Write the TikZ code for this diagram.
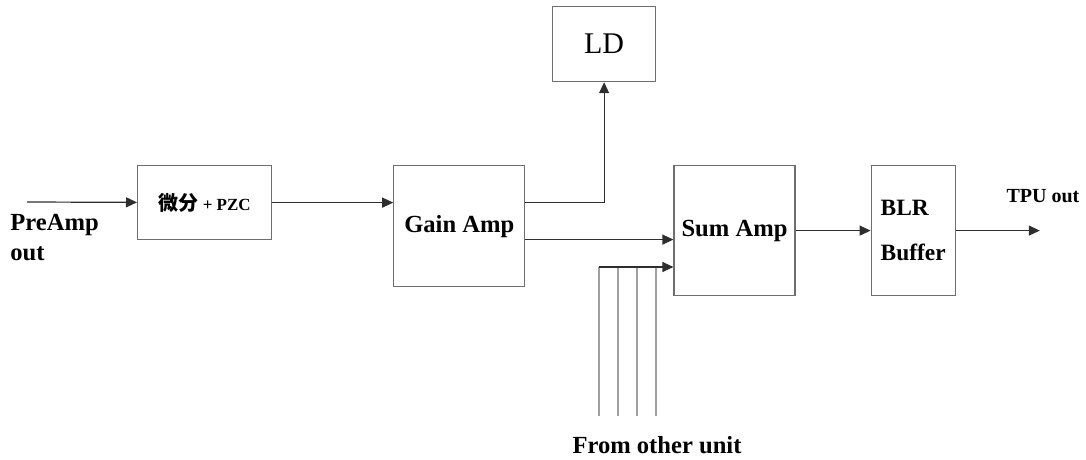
\documentclass[tikz,border=0pt]{standalone}
\usepackage{fontspec}
\setmainfont{Liberation Serif}
\newfontfamily\cjkfont{Noto Sans CJK SC}
\usetikzlibrary{arrows.meta,positioning}
\definecolor{boxline}{HTML}{6E6E6E}
\definecolor{wireink}{HTML}{2E2E2E}
\definecolor{feedline}{HTML}{A0A0A0}

\begin{document}
\begin{tikzpicture}[
  x=0.5pt, y=-0.5pt,
  font=\bfseries\fontsize{12.3}{14}\selectfont,
  blk/.style  = {draw=boxline, line width=0.6pt, inner sep=2pt, align=center},
  flow/.style = {-{Triangle[length=5.5pt,width=5pt]}, line width=0.6pt, draw=wireink},
  feed/.style = {line width=0.6pt, draw=feedline},
  lbl/.style  = {inner sep=0pt, align=left},
]
\useasboundingbox (0,0) rectangle (1086,460);

% ---------- blocks ----------------------------------------------------------
\node[blk, minimum width=67pt, minimum height=37pt, anchor=north west] (diff) at (137,165)
     {{\cjkfont\fontsize{10}{12}\selectfont 微分}{\fontsize{8.5}{10}\selectfont\ + PZC}};
\node[blk, minimum width=65.5pt, minimum height=60.5pt, right=60.5pt of diff.north east, anchor=north west] (gain) {Gain Amp};
\node[blk, minimum width=51.5pt, minimum height=37.5pt, anchor=north west,
      font=\mdseries\fontsize{15}{18}\selectfont] (ld) at (552,6) {LD};
\node[blk, minimum width=60.5pt, minimum height=65pt, right=74pt of gain.north east, anchor=north west] (sum) {Sum Amp};
\node[blk, minimum width=42pt, minimum height=65pt, right=37.5pt of sum.north east, anchor=north west,
      align=left, font=\bfseries\fontsize{11.7}{14}\selectfont] (blr) {BLR\\[8.5pt]Buffer};

% ---------- free ends -------------------------------------------------------
\coordinate (pre) at (27,202);
\coordinate[right=42pt of blr] (tpu);
\coordinate (bus) at (599,267);

% ---------- connectors ------------------------------------------------------
\draw[flow] (pre) -- (diff);
\draw[flow] (diff) -- (diff -| gain.west);
\draw[flow] (diff -| gain.east) -| (ld);
\draw[flow] ([yshift=-6.75pt]gain.east) -- ([yshift=-6.75pt]gain.east -| sum.west);
\foreach \k in {0,...,3} {
  \coordinate (f\k) at (599+19*\k,416);
  \draw[feed] (f\k) -- (f\k |- bus);
}
\draw[flow] (bus) -- (bus -| sum.west);
\draw[flow] (sum) -- (blr);
\draw[flow] (blr) -- (tpu);

% ---------- labels ----------------------------------------------------------
\node[lbl, anchor=north west] (prelbl) at (10,214) {PreAmp\\[1pt]out};
\node[lbl, anchor=base] (fromlbl) at (657,453) {From other unit};
\node[lbl, anchor=base, font=\bfseries\fontsize{10}{12}\selectfont] (tpulbl) at (1043,202) {TPU out};

\end{tikzpicture}
\end{document}
